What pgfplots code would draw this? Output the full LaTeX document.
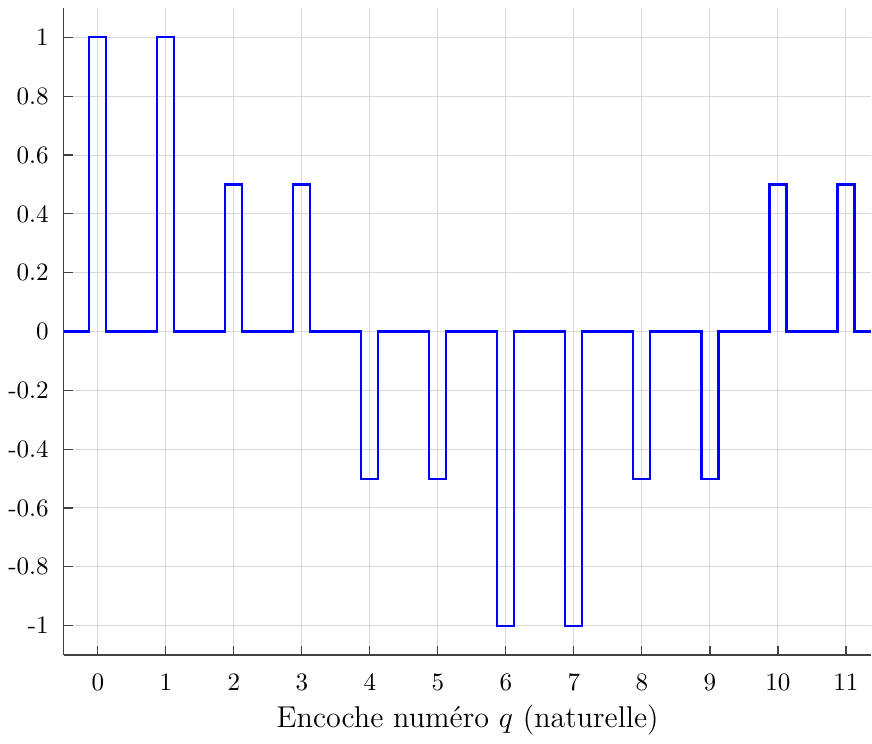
\documentclass[border=0pt]{standalone}
\usepackage{pgfplots}
\pgfplotsset{compat=1.18}
\begin{document}
\begin{tikzpicture}
\begin{axis}[
  scale only axis,
  width=322pt, height=258pt,
  xmin=-0.5, xmax=11.375,
  ymin=-1.1, ymax=1.1,
  axis x line*=bottom, axis y line*=left,
  axis line style={draw=black!75, line width=0.45pt},
  tick style={draw=black!75, line width=0.45pt},
  tick align=inside, major tick length=3.5pt,
  xtick={0,1,...,11},
  ytick={-1,-0.8,...,1.01},
  grid=major,
  major grid style={draw=black!15, line width=0.4pt},
  /pgf/number format/assume math mode=true,
  yticklabel style={/pgf/number format/fixed, /pgf/number format/precision=1, xshift=-2.5pt},
  xticklabel style={yshift=-4pt},
  ticklabel style={font=\normalsize},
  xlabel={Encoche numéro $q$ (naturelle)},
  xlabel style={font=\large, yshift=1.5pt},
]
\addplot[blue, line width=0.85pt, line join=miter] coordinates {
(-0.5,0) (-0.125,0) (-0.125,1) (0.125,1) (0.125,0)
(0.875,0) (0.875,1) (1.125,1) (1.125,0)
(1.875,0) (1.875,0.5) (2.125,0.5) (2.125,0)
(2.875,0) (2.875,0.5) (3.125,0.5) (3.125,0)
(3.875,0) (3.875,-0.5) (4.125,-0.5) (4.125,0)
(4.875,0) (4.875,-0.5) (5.125,-0.5) (5.125,0)
(5.875,0) (5.875,-1) (6.125,-1) (6.125,0)
(6.875,0) (6.875,-1) (7.125,-1) (7.125,0)
(7.875,0) (7.875,-0.5) (8.125,-0.5) (8.125,0)
(8.875,0) (8.875,-0.5) (9.125,-0.5) (9.125,0)
(9.875,0) (9.875,0.5) (10.125,0.5) (10.125,0)
(10.875,0) (10.875,0.5) (11.125,0.5) (11.125,0)
(11.375,0)
};
\end{axis}
\path ([yshift=3.2pt]current axis.north east);
\end{tikzpicture}
\end{document}
